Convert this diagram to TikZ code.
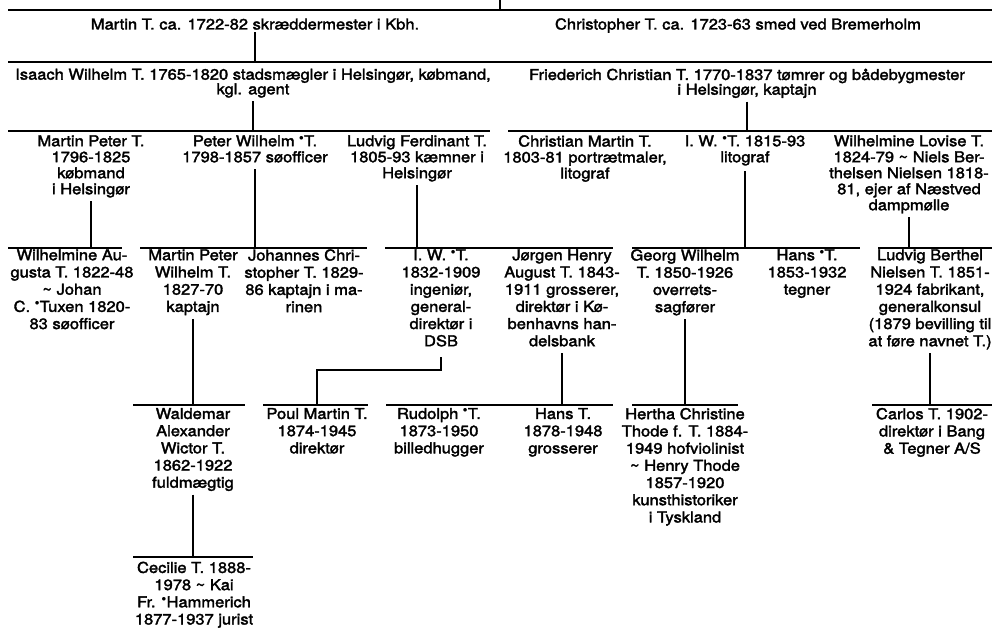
\documentclass[tikz,border=0pt]{standalone}
\usepackage{fontspec}
\setmainfont{TeX Gyre Heros}[FakeStretch=1.1, FakeBold=2.2]
\newcommand\dotm{\raisebox{0.40em}{\fontsize{9}{9}\selectfont$\bullet$}\hspace{0.3pt}}
\tikzset{
  pers/.style={anchor=north, inner sep=0pt, outer sep=0pt, align=center,
    execute at begin node={\rule{0pt}{14pt}},
    execute at end node={\rule[-7pt]{0pt}{7pt}}},
  ra/.style={pers, font=\fontsize{15}{14.7}\selectfont},
  rb/.style={pers, font=\fontsize{15}{16}\selectfont},
  rc/.style={pers, font=\fontsize{15}{17.2}\selectfont},
  ln/.style={line width=1.1pt}
}
\begin{document}
\begin{tikzpicture}[x=1pt, y=-1pt]
\useasboundingbox (0,0) rectangle (995,628);

% generation 1
\node[rc] (m1) at (255,15.5) {Martin T. ca. 1722-82 skræddermester i Kbh.};
\node[rc] (c1) at (738,15.5) {Christopher T. ca. 1723-63 smed ved Bremerholm};

% generation 2
\node[ra] (iw) at (253,68.7) {Isaach Wilhelm T. 1765-1820 stadsmægler i Helsingør, købmand,\\kgl. agent};
\node[ra] (fc) at (747,68.7) {Friederich Christian T. 1770-1837 tømrer og bådebygmester\\i Helsingør, kaptajn};

% generation 3
\node[rb] (mp) at (91,135.3) {Martin Peter T.\\1796-1825\\købmand\\i Helsingør};
\node[rb] (pw) at (255,135.3) {Peter Wilhelm \dotm T.\\1798-1857 søofficer};
\node[rb] (lf) at (417,135.3) {Ludvig Ferdinant T.\\1805-93 kæmner i\\Helsingør};
\node[rb] (cm) at (585,135.3) {Christian Martin T.\\1803-81 portrætmaler,\\litograf};
\node[rb] (iwb) at (745,135.3) {I. W. \dotm T. 1815-93\\litograf};
\node[rb] (wl) at (909,135.3) {Wilhelmine Lovise T.\\1824-79 \textasciitilde{} Niels Ber-\\thelsen Nielsen 1818-\\81, ejer af Næstved\\dampmølle};

% generation 4
\node[rc] (wa) at (72,249.3) {Wilhelmine Au-\\gusta T. 1822-48\\\textasciitilde{} Johan\\C. \dotm Tuxen 1820-\\83 søofficer};
\node[rc] (mpw) at (193,249.3) {Martin Peter\\Wilhelm T.\\1827-70\\kaptajn};
\node[rc] (jc) at (304,249.3) {Johannes Chri-\\stopher T. 1829-\\86 kaptajn i ma-\\rinen};
\node[rc] (dsb) at (441,249.3) {I. W. \dotm T.\\1832-1909\\ingeniør,\\general-\\direktør i\\DSB};
\node[rc] (jh) at (562,249.3) {Jørgen Henry\\August T. 1843-\\1911 grosserer,\\direktør i Kø-\\benhavns han-\\delsbank};
\node[rc] (gw) at (685,249.3) {Georg Wilhelm\\T. 1850-1926\\overrets-\\sagfører};
\node[rc] (hs) at (807,249.3) {Hans \dotm T.\\1853-1932\\tegner};
\node[rc] (lb) at (930,249.3) {Ludvig Berthel\\Nielsen T. 1851-\\1924 fabrikant,\\generalkonsul\\(1879 bevilling til\\at føre navnet T.)};

% generation 5
\node[rc] (wd) at (193,408) {Waldemar\\Alexander\\Wictor T.\\1862-1922\\fuldmægtig};
\node[rc] (pm) at (317,408) {Poul Martin T.\\1874-1945\\direktør};
\node[rc] (rd) at (439,408) {Rudolph \dotm T.\\1873-1950\\billedhugger};
\node[rc] (ht) at (563,408) {Hans T.\\1878-1948\\grosserer};
\node[rc] (hc) at (685,408) {Hertha Christine\\Thode f. T. 1884-\\1949 hofviolinist\\\textasciitilde{} Henry Thode\\1857-1920\\kunsthistoriker\\i Tyskland};
\node[rc] (ct) at (932,408) {Carlos T. 1902-\\direktør i Bang\\\& Tegner A/S};

% generation 6
\node[rc] (cc) at (194,561.7) {Cecilie T. 1888-\\1978 \textasciitilde{} Kai\\Fr. \dotm Hammerich\\1877-1937 jurist};

% bar coordinates
\coordinate (top) at (500,0);
\coordinate (g0l) at (8,10);   \coordinate (g0r) at (992,10);
\coordinate (g1l) at (8,62);   \coordinate (g1r) at (992,62);
\coordinate (g2al) at (8,131); \coordinate (g2ar) at (490,131);
\coordinate (g2bl) at (508,131); \coordinate (g2br) at (992,131);
\coordinate (g3al) at (8,248);   \coordinate (g3ar) at (122,248);
\coordinate (g3bl) at (140,248); \coordinate (g3br) at (367,248);
\coordinate (g3cl) at (385,248); \coordinate (g3cr) at (613,248);
\coordinate (g3dl) at (632,248); \coordinate (g3dr) at (860,248);
\coordinate (g3el) at (878,248); \coordinate (g3er) at (992,248);
\coordinate (g4al) at (133,405); \coordinate (g4ar) at (245,405);
\coordinate (g4bl) at (263,405); \coordinate (g4br) at (368,405);
\coordinate (g4cl) at (386,405); \coordinate (g4cr) at (613,405);
\coordinate (g4dl) at (632,405); \coordinate (g4dr) at (738,405);
\coordinate (g4el) at (872,405); \coordinate (g4er) at (992,405);
\coordinate (g5al) at (133,557); \coordinate (g5ar) at (253,557);
\coordinate (elb) at (0,370);

% bars
\foreach \a/\b in {g0l/g0r, g1l/g1r, g2al/g2ar, g2bl/g2br,
  g3al/g3ar, g3bl/g3br, g3cl/g3cr, g3dl/g3dr, g3el/g3er,
  g4al/g4ar, g4bl/g4br, g4cl/g4cr, g4dl/g4dr, g4el/g4er, g5al/g5ar}
  \draw[ln] (\a) -- (\b);

% descent lines
\draw[ln] (top) -- (top |- g0l);
\draw[ln, shorten <=-4pt] (m1.south) -- (m1.south |- g1l);
\draw[ln] (iw.south) -- (iw.south |- g2al);
\draw[ln] (fc.south) -- (fc.south |- g2bl);
\draw[ln] (mp.south) -- (mp.south |- g3al);
\draw[ln] (pw.south) -- (pw.south |- g3bl);
\draw[ln] (lf.south) -- (lf.south |- g3cl);
\draw[ln, shorten <=2pt] (iwb.south) -- (iwb.south |- g3dl);
\draw[ln] (wl.south) -- (wl.south |- g3el);
\draw[ln] (mpw.south) -- (mpw.south |- g4al);
\draw[ln, shorten <=4pt] (dsb.south) -- (dsb.south |- elb) -| (pm.north |- g4bl);
\draw[ln] (jh.south) -- (jh.south |- g4cl);
\draw[ln] (gw.south) -- (gw.south |- g4dl);
\draw[ln] (lb.south) -- (lb.south |- g4el);
\draw[ln] (wd.south) -- (wd.south |- g5al);
\end{tikzpicture}
\end{document}
